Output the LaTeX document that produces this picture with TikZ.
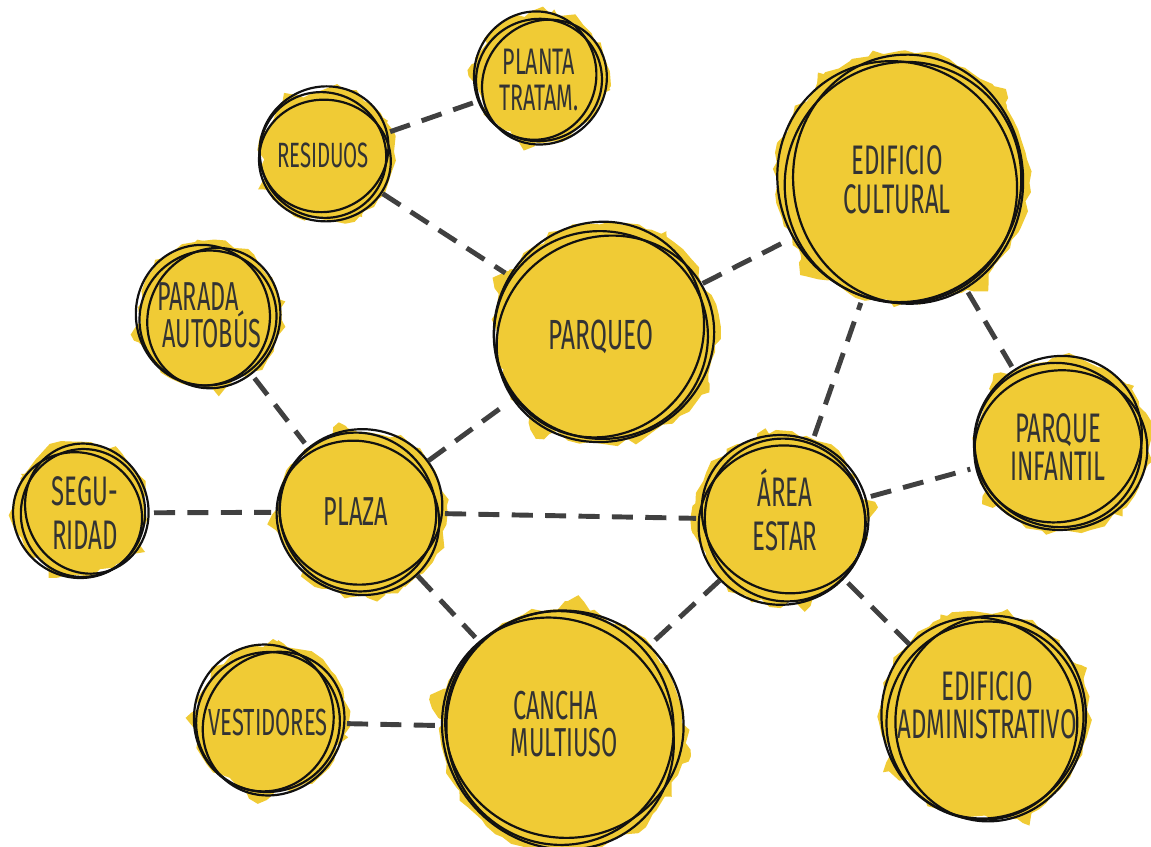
\documentclass[tikz,border=0pt]{standalone}
\usepackage{fontspec}
\newfontfamily\agency[FakeStretch=0.58]{Fira Sans}
\usetikzlibrary{decorations.pathmorphing,calc}
\definecolor{yel}{HTML}{F0CB35}
\definecolor{inkc}{HTML}{111111}
\definecolor{txt}{HTML}{333333}
\definecolor{dashc}{HTML}{404040}
\tikzset{
  inkline/.style={draw=inkc, line width=1.25pt},
  blobnode/.style={circle, inner sep=0pt, outer sep=4pt},
  blobtext/.style={inner sep=0pt, align=center, text=txt},
  conn/.style={draw=dashc, line width=2.8pt, dash pattern=on 12pt off 7pt},
}
% #1 name, #2 x, #3 y, #4 r, #5 font size, #6 baselineskip, #7 text, #8 rotation, #9 text offset
\newcommand\blob[9]{%
  \begin{scope}[shift={(#2,#3)}, rotate=#8]
    \fill[yel, decorate, decoration={random steps,segment length=6pt,amplitude=2.5pt}]
      (4,-3) circle[radius=1.04*#4];
    \fill[yel, decorate, decoration={random steps,segment length=5pt,amplitude=2pt}, rotate=25]
      (-0.84*#4,-0.78*#4) rectangle (0.84*#4,0.78*#4);
    \draw[inkline] (0,0) circle[x radius=#4, y radius=0.97*#4];
    \draw[inkline] (5,3) circle[x radius=1.03*#4, y radius=0.95*#4, rotate=35];
    \draw[inkline] (-3,-5) circle[x radius=0.97*#4, y radius=1.02*#4, rotate=-20];
  \end{scope}
  \node[blobnode, minimum size=#4*0.04cm] (#1) at (#2,#3) {};
  \node[blobtext, font={\agency\fontsize{#5}{#6}\selectfont}] (#1t) at ($(#2,#3)+(#9)$) {#7};
}
\begin{document}
\begin{tikzpicture}[x=0.02cm, y=-0.02cm]
\pgfmathsetseed{3}
\useasboundingbox (0,0) rectangle (1151,846);
\blob{planta}{539}{80}{63}{21}{21}{PLANTA\\TRATAM.}{10}{0,0}
\blob{residuos}{323}{155}{64}{20}{20}{RESIDUOS}{-40}{0,0}
\blob{cultural}{903}{182}{121}{23.5}{22}{EDIFICIO\\CULTURAL}{60}{-6,-2}
\blob{parqueo}{601}{335}{107}{24}{20}{PARQUEO}{-10}{0,2}
\blob{parada}{208}{318}{69}{23}{21}{PARADA\kern8pt\\\kern8pt AUTOBÚS}{30}{-3,-3}
\blob{seguridad}{83}{513}{64}{23.5}{25}{SEGU-\\RIDAD}{80}{2,0}
\blob{plaza}{358}{512}{80}{23}{20}{PLAZA}{-60}{-2,0}
\blob{area}{785}{520}{82}{23.5}{25.5}{ÁREA\\ESTAR}{120}{0,-10}
\blob{infantil}{1058}{445}{84}{23.5}{21.5}{PARQUE\\INFANTIL}{-30}{0,2}
\blob{admin}{985}{720}{100}{23.5}{21.5}{EDIFICIO\\ADMINISTRATIVO}{45}{2,-15}
\blob{cancha}{560}{728}{117}{23}{21.5}{CANCHA\kern5pt\\\kern5pt MULTIUSO}{-80}{0,-4}
\blob{vestidores}{268}{722}{72}{21.5}{20}{VESTIDORES}{15}{0,0}

\draw[conn] (residuos) -- (planta);
\draw[conn] (residuos) -- (parqueo);
\draw[conn] (parqueo) -- (cultural);
\draw[conn] (parada) -- (plaza);
\draw[conn] (seguridad) -- (plaza);
\draw[conn] (plaza) -- (parqueo);
\draw[conn] (plaza) -- (area);
\draw[conn] (plaza) -- (cancha);
\draw[conn] (area) -- (cultural);
\draw[conn] (area) -- (infantil);
\draw[conn] (area) -- (admin);
\draw[conn] (area) -- (cancha);
\draw[conn] (cultural) -- (infantil);
\draw[conn] (vestidores) -- (cancha);
\end{tikzpicture}
\end{document}
